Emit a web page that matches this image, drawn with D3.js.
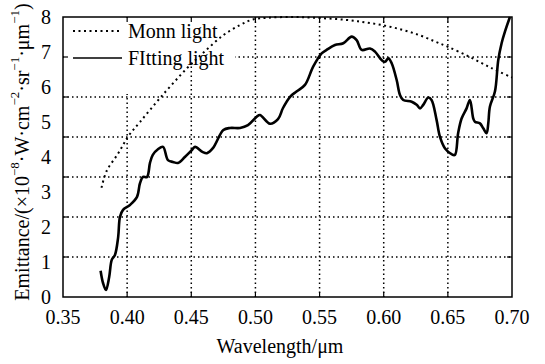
<!DOCTYPE html>
<html>
<head>
<meta charset="utf-8">
<script src="https://cdn.jsdelivr.net/npm/d3@7"></script>
<style>
  body { margin: 0; background: #fff; }
</style>
</head>
<body>
<svg id="chart" width="545" height="364"></svg>
<script>
// Monn light (dotted)
const monnWave = [0.380, 0.384, 0.393, 0.401, 0.410, 0.426, 0.447, 0.460, 0.475, 0.488, 0.498, 0.510, 0.530, 0.550, 0.570, 0.585, 0.600, 0.615, 0.628, 0.640, 0.650, 0.667, 0.684, 0.700];
const monnEmit = [3.12, 3.60, 4.10, 4.60, 5.00, 5.70, 6.55, 7.00, 7.48, 7.77, 7.93, 7.98, 8.00, 7.97, 7.92, 7.85, 7.76, 7.63, 7.48, 7.30, 7.15, 6.86, 6.54, 6.27];

// Fitting light (solid)
const fitWave = [0.3793, 0.3812, 0.3835, 0.3860, 0.3880, 0.3905, 0.3930, 0.3944, 0.3968, 0.4022, 0.4077, 0.4100, 0.4124, 0.4155, 0.4178, 0.4200, 0.4240, 0.4280, 0.4318, 0.4357, 0.4396, 0.4450, 0.4505, 0.4529, 0.4590, 0.4622, 0.4670, 0.4750, 0.4802, 0.4880, 0.4942, 0.5010, 0.5035, 0.5113, 0.5176, 0.5215, 0.5270, 0.5320, 0.5386, 0.5450, 0.5516, 0.5555, 0.5620, 0.5685, 0.5750, 0.5789, 0.5828, 0.5893, 0.5932, 0.5984, 0.6010, 0.6036, 0.6062, 0.6101, 0.6127, 0.6152, 0.6218, 0.6257, 0.6283, 0.6308, 0.6347, 0.6373, 0.6412, 0.6438, 0.6477, 0.6529, 0.6555, 0.6580, 0.6607, 0.6646, 0.6672, 0.6698, 0.6711, 0.6750, 0.6776, 0.6802, 0.6815, 0.6828, 0.6867, 0.6893, 0.6919, 0.6945, 0.6984];
const fitEmit = [0.75, 0.40, 0.20, 0.57, 1.06, 1.20, 1.71, 2.29, 2.49, 2.63, 2.86, 3.25, 3.43, 3.43, 3.83, 4.06, 4.22, 4.29, 3.91, 3.86, 3.83, 4.00, 4.20, 4.29, 4.14, 4.11, 4.26, 4.77, 4.83, 4.83, 4.91, 5.15, 5.20, 4.95, 5.08, 5.40, 5.72, 5.87, 6.06, 6.58, 6.96, 7.06, 7.20, 7.25, 7.44, 7.34, 7.06, 7.10, 7.01, 6.77, 6.72, 6.82, 6.68, 6.20, 5.77, 5.63, 5.58, 5.49, 5.39, 5.49, 5.70, 5.63, 5.06, 4.58, 4.25, 4.08, 4.06, 4.68, 5.10, 5.39, 5.63, 5.10, 5.01, 4.96, 4.82, 4.68, 4.96, 5.44, 5.87, 6.77, 7.25, 7.58, 8.00];

const xTicks = [0.35, 0.40, 0.45, 0.50, 0.55, 0.60, 0.65, 0.70];
const yTickLabels = [0, 1, 2, 3, 4, 5, 6, 7, 8];
// grid in the original has 7 equal intervals over 0..8
const yGrid = [1, 2, 3, 4, 5, 6].map(k => k * 8 / 7);
const seriesNames = ["Monn light", "FItting light"];

const plotLeft = 63, plotRight = 512, plotTop = 17, plotBottom = 297;
const serif = '"Liberation Serif", "Times New Roman", serif';

const svg = d3.select("#chart").style("font-family", serif);

const x = d3.scaleLinear().domain([0.35, 0.70]).range([plotLeft, plotRight]);
const y = d3.scaleLinear().domain([0, 8]).range([plotBottom, plotTop]);

// grid
const grid = svg.append("g")
    .attr("stroke", "#000")
    .attr("stroke-width", 1.5)
    .attr("stroke-dasharray", "1.5,3");

grid.selectAll(".vg")
    .data(xTicks.slice(1, -1))
    .enter()
    .append("line")
    .attr("x1", d => x(d)).attr("x2", d => x(d))
    .attr("y1", plotTop).attr("y2", plotBottom);

grid.selectAll(".hg")
    .data(yGrid)
    .enter()
    .append("line")
    .attr("x1", plotLeft).attr("x2", plotRight)
    .attr("y1", d => y(d)).attr("y2", d => y(d));

// legend background covers the grid
svg.append("rect")
    .attr("x", plotLeft + 1).attr("y", plotTop + 1)
    .attr("width", 171).attr("height", 47)
    .attr("fill", "#fff");
svg.append("rect")
    .attr("x", plotLeft + 1).attr("y", plotTop + 1)
    .attr("width", 72).attr("height", 76)
    .attr("fill", "#fff");

// inner ticks on all four sides
const tickLen = 5;
const ticks = svg.append("g").attr("stroke", "#000").attr("stroke-width", 1.2);
xTicks.slice(1, -1).forEach(v => {
    ticks.append("line").attr("x1", x(v)).attr("x2", x(v)).attr("y1", plotBottom).attr("y2", plotBottom - tickLen);
    ticks.append("line").attr("x1", x(v)).attr("x2", x(v)).attr("y1", plotTop).attr("y2", plotTop + tickLen);
});
yGrid.forEach(v => {
    ticks.append("line").attr("x1", plotLeft).attr("x2", plotLeft + tickLen).attr("y1", y(v)).attr("y2", y(v));
    ticks.append("line").attr("x1", plotRight).attr("x2", plotRight - tickLen).attr("y1", y(v)).attr("y2", y(v));
});

// curves
const line = d3.line()
    .x(d => x(d[0]))
    .y(d => y(d[1]))
    .curve(d3.curveCatmullRom.alpha(0.5));

svg.append("path")
    .datum(d3.zip(monnWave, monnEmit))
    .attr("d", line)
    .attr("fill", "none")
    .attr("stroke", "#000")
    .attr("stroke-width", 2)
    .attr("stroke-dasharray", "2,3.5");

svg.append("path")
    .datum(d3.zip(fitWave, fitEmit))
    .attr("d", line)
    .attr("fill", "none")
    .attr("stroke", "#000")
    .attr("stroke-width", 2.6)
    .attr("stroke-linejoin", "round");

// box
svg.append("rect")
    .attr("x", plotLeft).attr("y", plotTop)
    .attr("width", plotRight - plotLeft).attr("height", plotBottom - plotTop)
    .attr("fill", "none")
    .attr("stroke", "#000")
    .attr("stroke-width", 1.5);

// tick labels
svg.append("g").selectAll("text")
    .data(xTicks)
    .enter()
    .append("text")
    .style("font-family", serif)
    .attr("x", d => x(d))
    .attr("y", 324)
    .attr("text-anchor", "middle")
    .attr("font-size", 20)
    .text(d => d.toFixed(2));

svg.append("g").selectAll("text")
    .data(yTickLabels)
    .enter()
    .append("text")
    .style("font-family", serif)
    .attr("x", 51)
    .attr("y", d => y(d))
    .attr("dy", "0.34em")
    .attr("text-anchor", "end")
    .attr("font-size", 20)
    .text(d => d);

// axis titles
svg.append("text")
    .style("font-family", serif)
    .attr("x", 280)
    .attr("y", 353)
    .attr("text-anchor", "middle")
    .attr("font-size", 20)
    .text("Wavelength/μm");

const yt = svg.append("text")
    .style("font-family", serif)
    .attr("transform", "translate(29,152) rotate(-90)")
    .attr("text-anchor", "middle")
    .attr("font-size", 20);
const parts = [
    ["Emittance/(×10", false], ["−8", true], ["·W·cm", false], ["−2", true],
    ["·sr", false], ["−1", true], ["·μm", false], ["−1", true], [")", false]
];
parts.forEach(([t, sup]) => {
    yt.append("tspan")
        .attr("font-size", sup ? 13 : 20)
        .attr("baseline-shift", sup ? "75%" : null)
        .text(t);
});

// legend
const legend = svg.append("g");
const legendY = [31, 58];
legend.selectAll("line")
    .data(seriesNames)
    .enter()
    .append("line")
    .attr("x1", 73).attr("x2", 122)
    .attr("y1", (d, i) => legendY[i]).attr("y2", (d, i) => legendY[i])
    .attr("stroke", "#000")
    .attr("stroke-width", (d, i) => i === 0 ? 2 : 1.6)
    .attr("stroke-dasharray", (d, i) => i === 0 ? "2,3.5" : null);

legend.selectAll("text")
    .data(seriesNames)
    .enter()
    .append("text")
    .style("font-family", serif)
    .attr("x", 128)
    .attr("y", (d, i) => legendY[i] + 7)
    .attr("font-size", 20)
    .text(d => d);
</script>
</body>
</html>
